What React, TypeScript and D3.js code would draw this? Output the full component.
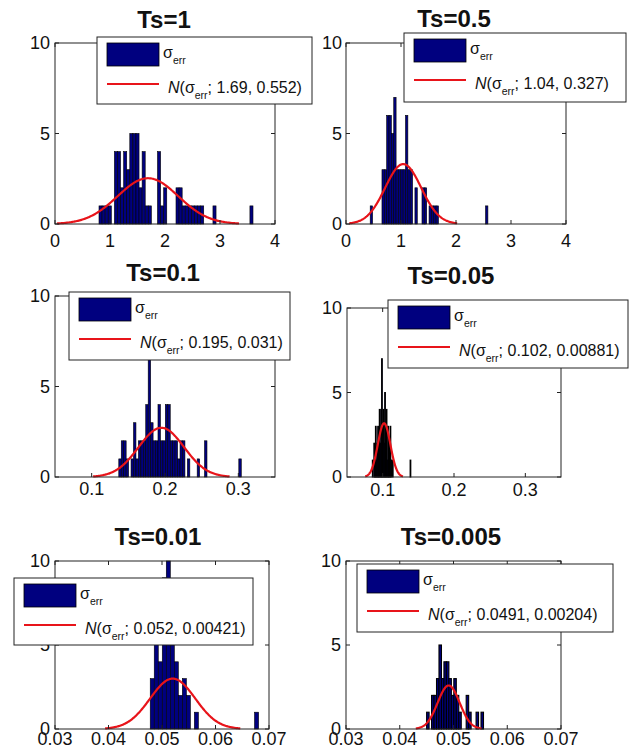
import React from 'react';
import * as d3 from 'd3';

// ---------- data ----------
const titles = ['Ts=1', 'Ts=0.5', 'Ts=0.1', 'Ts=0.05', 'Ts=0.01', 'Ts=0.005'];
const xDomains: [number, number][] = [[0, 4], [0, 4], [0.05, 0.35], [0.05, 0.35], [0.03, 0.07], [0.03, 0.07]];
const xTicksA = [0, 1, 2, 3, 4];
const xTicksB = [0.1, 0.2, 0.3];
const xTicksC = [0.03, 0.04, 0.05, 0.06, 0.07];
const xTickLabelsA = ['0', '1', '2', '3', '4'];
const xTickLabelsB = ['0.1', '0.2', '0.3'];
const xTickLabelsC = ['0.03', '0.04', '0.05', '0.06', '0.07'];
const yTicks = [0, 5, 10];
const yTickLabels = ['0', '5', '10'];

const binStarts = [0.8, 0.44, 0.137, 0.0855, 0.0478, 0.045];
const binWidths = [0.056, 0.0428, 0.00334, 0.00108, 0.00075, 0.00046];

const counts1 = [1, 1, 1, 1, 0, 4, 4, 2, 4, 3, 5, 5, 5, 2, 4, 1, 1, 0, 0, 4, 1, 2, 0, 0, 0, 2, 2, 1, 1, 1, 1, 1, 1, 1, 0, 0, 0, 1, 0, 0, 0, 0, 0, 0, 0, 0, 0, 0, 0, 1];
const counts2 = [1, 0, 0, 0, 0, 3, 3, 6, 6, 5, 7, 3, 3, 3, 3, 6, 3, 3, 0, 2, 0, 0, 2, 2, 0, 1, 1, 1, 1, 0, 0, 0, 0, 0, 0, 0, 0, 0, 0, 0, 0, 0, 0, 0, 0, 0, 0, 0, 0, 1];
const counts3 = [1, 2, 2, 1, 0, 1, 3, 1, 2, 2, 2, 4, 7, 3, 2, 2, 4, 2, 2, 4, 4, 2, 2, 2, 1, 2, 2, 0, 1, 0, 0, 0, 1, 0, 0, 2, 0, 0, 0, 0, 0, 0, 0, 0, 0, 0, 0, 0, 0, 1];
const counts4 = [1, 0, 2, 1, 3, 1, 2, 3, 1, 4, 2, 4, 7, 3, 4, 2, 5, 3, 4, 1, 3, 1, 2, 3, 1, 0, 1, 0, 0, 0, 0, 0, 0, 0, 0, 0, 0, 0, 0, 0, 0, 0, 0, 0, 0, 0, 0, 0, 0, 1];
const counts5 = [3, 6, 4, 9, 10, 5, 4, 2, 3, 2, 0, 1, 0, 0, 0, 0, 0, 0, 0, 0, 0, 0, 0, 0, 0, 0, 1];
const counts6 = [1, 0, 2, 2, 3, 5, 3, 4, 4, 3, 2, 3, 2, 1, 0, 0, 2, 1, 0, 0, 1, 0, 1];

const fitMeans = [1.69, 1.04, 0.195, 0.102, 0.052, 0.0491];
const fitSigmas = [0.552, 0.327, 0.031, 0.00881, 0.00421, 0.00204];
const fitPeaks = [2.53, 3.31, 2.72, 3.18, 3.0, 2.59];
const meanLabels = ['1.69', '1.04', '0.195', '0.102', '0.052', '0.0491'];
const sigmaLabels = ['0.552', '0.327', '0.031', '0.00881', '0.00421', '0.00204'];

const allCounts = [counts1, counts2, counts3, counts4, counts5, counts6];
const allXTicks = [xTicksA, xTicksA, xTicksB, xTicksB, xTicksC, xTicksC];
const allXTickLabels = [xTickLabelsA, xTickLabelsA, xTickLabelsB, xTickLabelsB, xTickLabelsC, xTickLabelsC];

// ---------- layout ----------
type Layout = {
  ax: [number, number, number, number];
  leg: [number, number, number, number];
  title: [number, number];
  xLabDy: number;
  yLabDx: number;
  edge: number;
};
const layouts: Layout[] = [
  { ax: [55, 43, 275, 224], leg: [97, 37, 215, 67], title: [164, 28], xLabDy: 23, yLabDx: 5, edge: 0.6 },
  { ax: [346, 43, 566, 224], leg: [404, 33, 222, 69], title: [454, 27], xLabDy: 23, yLabDx: 4, edge: 0.6 },
  { ax: [55, 296, 275, 477], leg: [69, 292, 221, 68], title: [163, 281], xLabDy: 18, yLabDx: 5, edge: 0.6 },
  { ax: [347, 308, 561, 477], leg: [388, 300, 240, 68], title: [451, 284], xLabDy: 19, yLabDx: 5, edge: 1.0 },
  { ax: [55, 561, 269, 729], leg: [14, 578, 239, 67], title: [158, 545], xLabDy: 16, yLabDx: 5, edge: 0.6 },
  { ax: [346, 561, 561, 729], leg: [357, 564, 256, 68], title: [451, 545], xLabDy: 16, yLabDx: 5, edge: 1.1 },
];

const FONT = 'Liberation Sans, Arial, Helvetica, sans-serif';
const BAR = '#00007f';
const RED = '#e8141a';
const AXC = '#222';

function Panel({ i }: { i: number }) {
  const L = layouts[i];
  const [x0, y0, x1, y1] = L.ax;
  const xs = d3.scaleLinear().domain(xDomains[i]).range([x0, x1]);
  const ys = d3.scaleLinear().domain([0, 10]).range([y1, y0]);
  const counts = allCounts[i];
  const bs = binStarts[i];
  const bw = binWidths[i];
  const mu = fitMeans[i];
  const sg = fitSigmas[i];
  const pk = fitPeaks[i];
  const pts = d3.range(0, 201).map((j) => mu - 3 * sg + (6 * sg * j) / 200);
  const line = d3
    .line<number>()
    .x((v) => xs(v))
    .y((v) => ys(pk * Math.exp(-((v - mu) * (v - mu)) / (2 * sg * sg))))
    .curve(d3.curveLinear);
  const [lx, ly, lw, lh] = L.leg;
  const tl = 4;
  return (
    <g>
      {counts.map((c, k) =>
        c > 0 ? (
          <rect
            key={k}
            x={xs(bs + k * bw)}
            y={ys(c)}
            width={xs(bs + (k + 1) * bw) - xs(bs + k * bw)}
            height={ys(0) - ys(c)}
            fill={BAR}
            stroke="#000"
            strokeWidth={L.edge}
          />
        ) : null
      )}
      <path d={line(pts) || ''} fill="none" stroke={RED} strokeWidth={2.2} strokeLinejoin="round" />
      <rect x={x0} y={y0} width={x1 - x0} height={y1 - y0} fill="none" stroke={AXC} strokeWidth={1} />
      {allXTicks[i].map((t, k) => (
        <g key={'xt' + k}>
          <line x1={xs(t)} x2={xs(t)} y1={y1} y2={y1 - tl} stroke={AXC} strokeWidth={1} />
          <line x1={xs(t)} x2={xs(t)} y1={y0} y2={y0 + tl} stroke={AXC} strokeWidth={1} />
          <text x={xs(t)} y={y1 + L.xLabDy} textAnchor="middle" fontSize={18} fontFamily={FONT} fill="#111">
            {allXTickLabels[i][k]}
          </text>
        </g>
      ))}
      {yTicks.map((t, k) => (
        <g key={'yt' + k}>
          <line x1={x0} x2={x0 + tl} y1={ys(t)} y2={ys(t)} stroke={AXC} strokeWidth={1} />
          <line x1={x1} x2={x1 - tl} y1={ys(t)} y2={ys(t)} stroke={AXC} strokeWidth={1} />
          <text x={x0 - L.yLabDx} y={ys(t)} dy="0.36em" textAnchor="end" fontSize={18} fontFamily={FONT} fill="#111">
            {yTickLabels[k]}
          </text>
        </g>
      ))}
      <text x={L.title[0]} y={L.title[1]} textAnchor="middle" fontSize={24} fontWeight="bold" fontFamily={FONT} fill="#111">
        {titles[i]}
      </text>
      <g>
        <rect x={lx} y={ly} width={lw} height={lh} fill="#fff" stroke={AXC} strokeWidth={1} />
        <rect x={lx + 10} y={ly + 6} width={52} height={23} fill={BAR} stroke="#000" strokeWidth={0.8} />
        <text x={lx + 66} y={ly + 21} fontSize={16} fontFamily={FONT} fill="#111">
          σ<tspan fontSize={10.5} dy={6}>err</tspan>
        </text>
        <line x1={lx + 10} x2={lx + 62} y1={ly + 47} y2={ly + 47} stroke={RED} strokeWidth={2.2} />
        <text x={lx + 71} y={ly + 56} fontSize={16} fontFamily={FONT} fill="#111">
          <tspan fontStyle="italic">N</tspan>
          <tspan>(σ</tspan>
          <tspan fontSize={10.5} dy={6}>err</tspan>
          <tspan dy={-6}>{'; ' + meanLabels[i] + ', ' + sigmaLabels[i] + ')'}</tspan>
        </text>
      </g>
    </g>
  );
}

export default function App() {
  return (
    <svg
      width={632}
      height={753}
      viewBox="0 0 632 753"
      style={{ position: 'absolute', left: 0, top: 0, background: '#fff' }}
    >
      {titles.map((_, i) => (
        <Panel key={i} i={i} />
      ))}
    </svg>
  );
}
